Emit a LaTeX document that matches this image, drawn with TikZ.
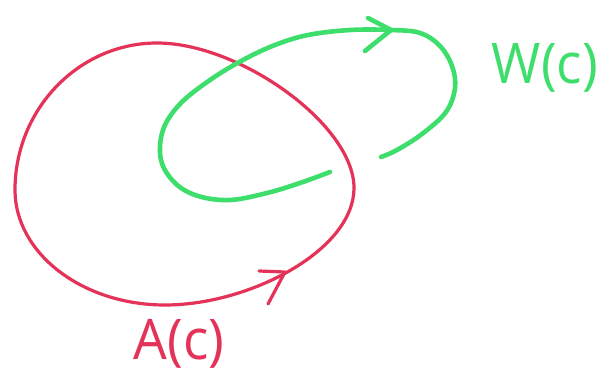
\documentclass[tikz,border=0pt]{standalone}
\usepackage{fontspec}
\setmainfont{Open Sans}
\definecolor{penred}{RGB}{228,50,88}
\definecolor{pengreen}{RGB}{62,222,108}
\tikzset{
  redstroke/.style={draw=penred, line width=3.2pt, line cap=round, line join=round},
  greenstroke/.style={draw=pengreen, line width=4.6pt, line cap=round, line join=round},
  lbl/.style={inner sep=0pt, font=\fontsize{56}{60}\selectfont\addfontfeatures{FakeStretch=0.95}},
}
\begin{document}
\begin{tikzpicture}[x=1pt,y=-1pt]
\useasboundingbox[fill=white] (0,0) rectangle (616,379);
% red loop
\coordinate (rtop) at (157,43);
\coordinate (rleft) at (15,190);
\coordinate (rbot) at (165,305);
\coordinate (rright) at (354,188);
\draw[redstroke] (rtop) .. controls (79,43) and (15,109) .. (rleft)
  .. controls (15,253) and (82,305) .. (rbot)
  .. controls (250,305) and (354,250) .. (rright)
  .. controls (354,125) and (240,43) .. (rtop) -- cycle;
\coordinate (rtip) at (285,272);
\draw[redstroke] (259,271) -- (rtip) -- (268,304);
% green spiral
\draw[greenstroke] plot[smooth, tension=0.6] coordinates {
  (330,172) (300,183) (267,193) (230,200) (198,196) (175,183) (161,160)
  (163,130) (180,104) (210,80) (243,60) (275,45) (308,35) (350,30) (391,30)
  (420,33) (440,46) (452,66) (455,88) (446,112) (422,134) (397,150) (381,157)};
\coordinate (gtip) at (391,30);
\draw[greenstroke] (368,18) -- (gtip) -- (365,51);
% labels
\node[lbl, text=penred] (A) at (179,344) {A(c)};
\node[lbl, text=pengreen] (W) at (545,68) {W(c)};
\end{tikzpicture}
\end{document}
